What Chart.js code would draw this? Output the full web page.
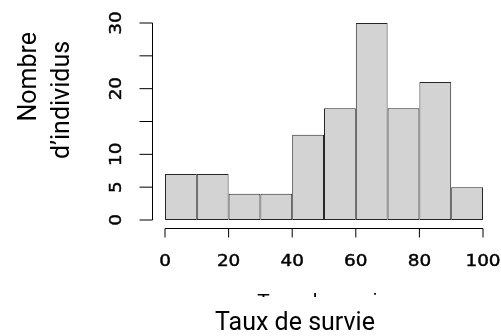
<!DOCTYPE html>
<html>
<head>
<meta charset="utf-8">
<script src="https://cdn.jsdelivr.net/npm/chart.js@4"></script>
<style>
    html, body { margin: 0; padding: 0; background: #fff; }
    canvas { display: block; }
</style>
</head>
<body>
<canvas id="histChart" width="501" height="336"></canvas>
<script>
// ========================================
// DATA
// ========================================
const binEdges = [0, 10, 20, 30, 40, 50, 60, 70, 80, 90, 100];
const counts = [7, 7, 4, 4, 13, 17, 30, 17, 21, 5];
const xTicks = [0, 20, 40, 60, 80, 100];
const yTicks = [0, 5, 10, 15, 20, 25, 30];
const yTickLabels = [0, 5, 10, 20, 30];
const xTitle = 'Taux de survie';
const yTitleLines = ['Nombre', 'd’individus'];

// ========================================
// STYLE
// ========================================
const TICK_FONT = '16px "DejaVu Sans"';
const TICK_STRETCH = 1.15;
const TITLE_FONT = '25px Roboto';

function stretchedText(ctx, text, x, y, angle) {
    ctx.save();
    ctx.translate(x, y);
    ctx.rotate(angle);
    ctx.scale(TICK_STRETCH, 1);
    ctx.fillText(text, 0, 0);
    ctx.lineWidth = 0.45;
    ctx.strokeText(text, 0, 0);
    ctx.restore();
}

// ========================================
// R-STYLE AXES AND TITLES
// ========================================
const rAxesPlugin = {
    id: 'rAxes',
    afterDraw(chart) {
        const ctx = chart.ctx;
        const xs = chart.scales.x;
        const ys = chart.scales.y;
        const area = chart.chartArea;

        ctx.save();
        ctx.strokeStyle = '#000';
        ctx.fillStyle = '#000';
        ctx.lineWidth = 1;

        // y axis, offset to the left of the bars
        const axisX = Math.round(area.left - 13) + 0.5;
        ctx.beginPath();
        ctx.moveTo(axisX, ys.getPixelForValue(yTicks[0]));
        ctx.lineTo(axisX, ys.getPixelForValue(yTicks[yTicks.length - 1]));
        yTicks.forEach(v => {
            const py = ys.getPixelForValue(v);
            ctx.moveTo(axisX - 13, py);
            ctx.lineTo(axisX, py);
        });
        ctx.stroke();

        ctx.font = TICK_FONT;
        ctx.textAlign = 'center';
        ctx.textBaseline = 'alphabetic';
        yTickLabels.forEach(v => {
            stretchedText(ctx, String(v), axisX - 32, ys.getPixelForValue(v), -Math.PI / 2);
        });

        // x axis, below the bars
        const axisY = Math.round(area.bottom + 8) + 0.5;
        ctx.beginPath();
        ctx.moveTo(xs.getPixelForValue(xTicks[0]), axisY);
        ctx.lineTo(xs.getPixelForValue(xTicks[xTicks.length - 1]), axisY);
        xTicks.forEach(v => {
            const px = xs.getPixelForValue(v);
            ctx.moveTo(px, axisY);
            ctx.lineTo(px, axisY + 9);
        });
        ctx.stroke();

        xTicks.forEach(v => {
            stretchedText(ctx, String(v), xs.getPixelForValue(v), axisY + 37, 0);
        });

        // original title, mostly covered: only its top edge shows
        ctx.save();
        ctx.beginPath();
        ctx.rect(0, 0, chart.width, 297);
        ctx.clip();
        ctx.font = '20.4px "Liberation Sans"';
        ctx.fillText(xTitle, (area.left + area.right) / 2 - 1, 308);
        ctx.restore();

        // titles
        ctx.font = TITLE_FONT;
        ctx.fillText(xTitle, 295, 330);

        const yTitlePos = [[35.5, 76.7], [68.5, 100]];
        yTitleLines.forEach((line, i) => {
            ctx.save();
            ctx.translate(yTitlePos[i][0], yTitlePos[i][1]);
            ctx.rotate(-Math.PI / 2);
            ctx.fillText(line, 0, 0);
            ctx.restore();
        });

        ctx.restore();
    }
};

// ========================================
// HISTOGRAM
// ========================================
const histData = counts.map((c, i) => ({ x: (binEdges[i] + binEdges[i + 1]) / 2, y: c }));

new Chart(document.getElementById('histChart'), {
    type: 'bar',
    data: {
        datasets: [{
            data: histData,
            backgroundColor: '#d3d3d3',
            borderColor: '#262626',
            borderWidth: 1,
            borderSkipped: false,
            inflateAmount: 0,
            barPercentage: 1,
            categoryPercentage: 1
        }]
    },
    options: {
        responsive: false,
        animation: false,
        layout: {
            padding: { left: 165, right: 18, top: 23, bottom: 116 }
        },
        plugins: {
            legend: { display: false },
            tooltip: { enabled: false }
        },
        scales: {
            x: {
                type: 'linear',
                offset: false,
                min: binEdges[0],
                max: binEdges[binEdges.length - 1],
                display: false
            },
            y: { min: yTicks[0], max: yTicks[yTicks.length - 1], display: false }
        }
    },
    plugins: [rAxesPlugin]
});
</script>
</body>
</html>
